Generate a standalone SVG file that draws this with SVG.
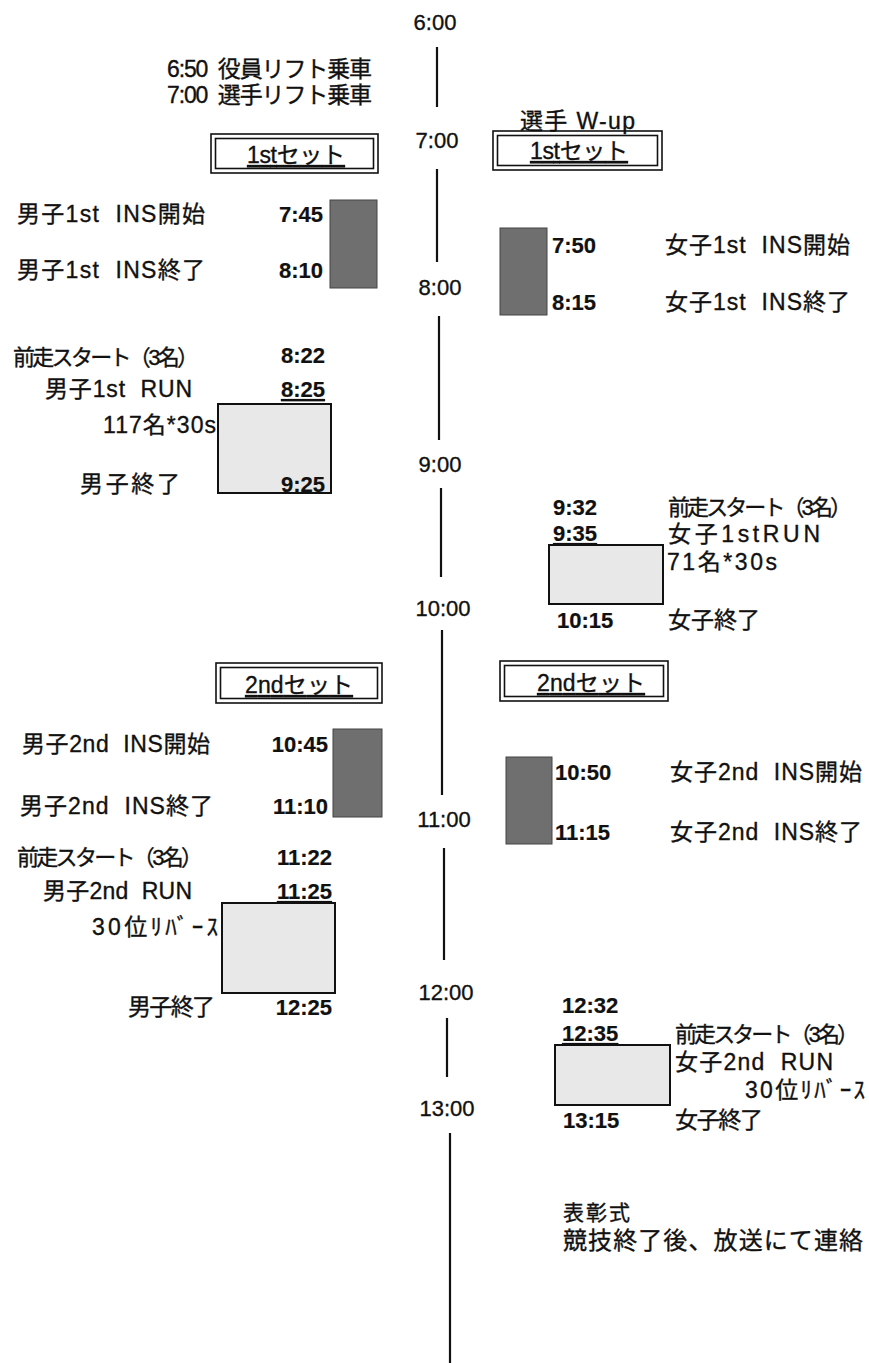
<svg xmlns="http://www.w3.org/2000/svg" width="869" height="1363" viewBox="0 0 869 1363">
<style>
text{font-family:"Liberation Sans","Noto Sans CJK JP",sans-serif;fill:#111;stroke:#111;stroke-width:0.35;}
.lbl{font-size:23px;}
.pre{font-size:22px;}
.tm{font-size:22px;font-weight:bold;stroke-width:0.2;}
.ax{font-size:22px;text-anchor:middle;}
.u{text-decoration:underline;}
.dark{fill:#6f6f6f;stroke:#444;stroke-width:1;}
.light{fill:#e8e8e8;stroke:#111;stroke-width:2;}
.frame{fill:none;stroke:#111;stroke-width:1.6;}
.axis{stroke:#111;stroke-width:2.2;}
</style>
<rect width="869" height="1363" fill="#fff"/>

<g id="timeline">
<line class="axis" x1="437" y1="47" x2="437" y2="107"/>
<line class="axis" x1="437" y1="169" x2="437" y2="262"/>
<line class="axis" x1="439" y1="316" x2="439" y2="440"/>
<line class="axis" x1="441" y1="488" x2="441" y2="577"/>
<line class="axis" x1="442" y1="630" x2="442" y2="795"/>
<line class="axis" x1="444" y1="848" x2="444" y2="960"/>
<line class="axis" x1="447" y1="1018" x2="447" y2="1077"/>
<line class="axis" x1="450" y1="1133" x2="450" y2="1363"/>
</g>

<g id="axis-labels">
<text class="ax" x="435" y="30">6:00</text>
<text class="ax" x="437" y="148">7:00</text>
<text class="ax" x="440" y="295">8:00</text>
<text class="ax" x="440" y="472">9:00</text>
<text class="ax" x="443" y="616">10:00</text>
<text class="ax" x="444" y="827">11:00</text>
<text class="ax" x="446" y="1000">12:00</text>
<text class="ax" x="447" y="1116">13:00</text>
</g>

<g id="lift">
<text class="lbl" x="167" y="77" textLength="205" lengthAdjust="spacing">6:50&#160;&#160;役員リフト乗車</text>
<text class="lbl" x="167" y="103" textLength="205" lengthAdjust="spacing">7:00&#160;&#160;選手リフト乗車</text>
</g>

<g id="wup">
<text class="lbl" x="520" y="129" textLength="115" lengthAdjust="spacing">選手&#160;W-up</text>
</g>

<g id="set1-left">
<rect class="frame" x="211" y="134" width="167" height="39"/>
<rect class="frame" x="215.5" y="138.5" width="158" height="30"/>
<text class="lbl u" x="247" y="163" textLength="98" lengthAdjust="spacing">1stセット</text>
</g>
<g id="set1-right">
<rect class="frame" x="493" y="131" width="169" height="39"/>
<rect class="frame" x="497.5" y="135.5" width="160" height="30"/>
<text class="lbl u" x="530" y="159" textLength="98" lengthAdjust="spacing">1stセット</text>
</g>

<g id="men1-ins">
<rect class="dark" x="330" y="200" width="47" height="88"/>
<text class="lbl" x="17" y="222" textLength="188" lengthAdjust="spacing">男子1st&#160;&#160;INS開始</text>
<text class="tm" x="323" y="222" text-anchor="end">7:45</text>
<text class="lbl" x="17" y="278" textLength="188" lengthAdjust="spacing">男子1st&#160;&#160;INS終了</text>
<text class="tm" x="323" y="278" text-anchor="end">8:10</text>
</g>

<g id="women1-ins">
<rect class="dark" x="500" y="228" width="47" height="87"/>
<text class="tm" x="552" y="253">7:50</text>
<text class="tm" x="552" y="310">8:15</text>
<text class="lbl" x="665" y="253" textLength="185" lengthAdjust="spacing">女子1st&#160;&#160;INS開始</text>
<text class="lbl" x="665" y="310" textLength="185" lengthAdjust="spacing">女子1st&#160;&#160;INS終了</text>
</g>

<g id="men1-run">
<text class="lbl pre" x="13" y="365" textLength="186" lengthAdjust="spacing">前走スタート（3名）</text>
<text class="tm" x="325" y="363" text-anchor="end">8:22</text>
<text class="lbl" x="45" y="397" textLength="147" lengthAdjust="spacing">男子1st&#160;&#160;RUN</text>
<text class="tm u" x="325" y="397" text-anchor="end">8:25</text>
<rect class="light" x="218" y="404" width="113" height="89"/>
<text class="lbl" x="103" y="433" textLength="113" lengthAdjust="spacing">117名*30s</text>
<text class="lbl" x="80" y="492" textLength="100" lengthAdjust="spacing">男子終了</text>
<text class="tm" x="325" y="492" text-anchor="end">9:25</text>
</g>

<g id="women1-run">
<text class="tm" x="553" y="515">9:32</text>
<text class="lbl pre" x="668" y="515" textLength="184" lengthAdjust="spacing">前走スタート（3名）</text>
<text class="tm u" x="553" y="541">9:35</text>
<text class="lbl" x="668" y="542" textLength="152" lengthAdjust="spacing">女子1stRUN</text>
<rect class="light" x="549" y="545" width="114" height="59"/>
<text class="lbl" x="667" y="570" textLength="110" lengthAdjust="spacing">71名*30s</text>
<text class="tm" x="557" y="628">10:15</text>
<text class="lbl" x="668" y="628" textLength="92" lengthAdjust="spacing">女子終了</text>
</g>

<g id="set2-left">
<rect class="frame" x="216" y="663" width="166" height="40"/>
<rect class="frame" x="220.5" y="667.5" width="157" height="31"/>
<text class="lbl u" x="245" y="693" textLength="108" lengthAdjust="spacing">2ndセット</text>
</g>
<g id="set2-right">
<rect class="frame" x="500" y="661" width="168" height="40"/>
<rect class="frame" x="504.5" y="665.5" width="159" height="31"/>
<text class="lbl u" x="537" y="691" textLength="108" lengthAdjust="spacing">2ndセット</text>
</g>

<g id="men2-ins">
<rect class="dark" x="333" y="729" width="49" height="88"/>
<text class="lbl" x="22" y="752" textLength="188" lengthAdjust="spacing">男子2nd&#160;&#160;INS開始</text>
<text class="tm" x="328" y="752" text-anchor="end">10:45</text>
<text class="lbl" x="20" y="814" textLength="193" lengthAdjust="spacing">男子2nd&#160;&#160;INS終了</text>
<text class="tm" x="328" y="814" text-anchor="end">11:10</text>
</g>

<g id="women2-ins">
<rect class="dark" x="506" y="757" width="46" height="87"/>
<text class="tm" x="555" y="780">10:50</text>
<text class="lbl" x="670" y="780" textLength="192" lengthAdjust="spacing">女子2nd&#160;&#160;INS開始</text>
<text class="tm" x="555" y="840">11:15</text>
<text class="lbl" x="670" y="840" textLength="192" lengthAdjust="spacing">女子2nd&#160;&#160;INS終了</text>
</g>

<g id="men2-run">
<text class="lbl pre" x="17" y="865" textLength="186" lengthAdjust="spacing">前走スタート（3名）</text>
<text class="tm" x="332" y="865" text-anchor="end">11:22</text>
<text class="lbl" x="43" y="899" textLength="149" lengthAdjust="spacing">男子2nd&#160;&#160;RUN</text>
<text class="tm u" x="332" y="899" text-anchor="end">11:25</text>
<rect class="light" x="222" y="903" width="113" height="90"/>
<text class="lbl" x="92" y="935" textLength="126" lengthAdjust="spacing">30位ﾘﾊﾞｰｽ</text>
<text class="lbl" x="128" y="1015" textLength="87" lengthAdjust="spacing">男子終了</text>
<text class="tm" x="332" y="1015" text-anchor="end">12:25</text>
</g>

<g id="women2-run">
<text class="tm" x="562" y="1013">12:32</text>
<text class="tm u" x="562" y="1041">12:35</text>
<text class="lbl pre" x="675" y="1042" textLength="184" lengthAdjust="spacing">前走スタート（3名）</text>
<rect class="light" x="555" y="1045" width="115" height="60"/>
<text class="lbl" x="675" y="1070" textLength="158" lengthAdjust="spacing">女子2nd&#160;&#160;RUN</text>
<text class="lbl" x="745" y="1098" textLength="120" lengthAdjust="spacing">30位ﾘﾊﾞｰｽ</text>
<text class="tm" x="563" y="1128">13:15</text>
<text class="lbl" x="675" y="1128" textLength="88" lengthAdjust="spacing">女子終了</text>
</g>

<g id="ceremony">
<text class="lbl" x="563" y="1220" style="font-size:21px" textLength="67" lengthAdjust="spacing">表彰式</text>
<text class="lbl" x="563" y="1249" style="font-size:24px" textLength="300" lengthAdjust="spacing">競技終了後、放送にて連絡</text>
</g>
</svg>
